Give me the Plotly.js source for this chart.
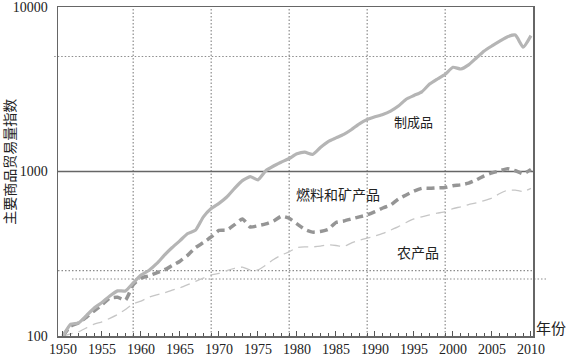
<!DOCTYPE html>
<html><head><meta charset="utf-8">
<script src="https://cdn.plot.ly/plotly-3.0.1.min.js"></script>
<style>html,body{margin:0;padding:0;background:#fff}#c{width:566px;height:358px}</style>
</head><body><div id="c"></div>
<script>
const years = [];
for (let y = 1950; y <= 2010; y++) years.push(y);

const manufactures = [100,118,120,133,148,160,175,188,188,210,235,250,275,310,345,380,420,440,530,595,640,700,790,880,930,890,1010,1080,1140,1200,1280,1310,1270,1400,1520,1600,1680,1800,1950,2070,2150,2220,2330,2500,2750,2900,3050,3400,3650,3900,4300,4200,4450,4900,5400,5800,6200,6600,6750,5700,6700];
const fuels = [100,115,120,130,142,155,170,172,165,205,225,232,242,252,268,285,310,345,370,400,438,440,475,515,460,468,480,500,535,520,480,445,428,432,445,490,500,515,530,545,570,600,625,680,720,760,790,790,795,800,820,830,850,890,940,980,1010,1040,1010,970,1030];
const agriculture = [100,103,106,112,118,122,128,135,145,157,163,172,178,183,190,196,205,215,225,235,240,250,258,262,252,252,270,292,310,325,345,348,348,352,358,355,350,368,382,394,405,420,440,462,490,515,530,545,558,570,595,610,630,645,665,690,735,770,770,755,790];

const xTickVals = [1950,1955,1960,1965,1970,1975,1980,1985,1990,1995,2000,2005,2010];
const yTickVals = [100,1000,10000];
const yTickText = ['100','1000','10000'];
const gridYears = [1959,1969,1979,1989,1999];
const refLevels = [5000,250,222];

const serif = '"Liberation Serif", "DejaVu Serif", serif';
const cjk = '"Noto Sans CJK SC", sans-serif';

const traces = [
  {x: years, y: agriculture, type:'scatter', mode:'lines', line:{color:'#c6c6c6', width:1.3, dash:'10px,6px', shape:'spline', smoothing:0.5}, hoverinfo:'skip'},
  {x: years, y: fuels, type:'scatter', mode:'lines', line:{color:'#959595', width:3.5, dash:'8px,5px', shape:'spline', smoothing:0.5}, hoverinfo:'skip'},
  {x: years, y: manufactures, type:'scatter', mode:'lines', line:{color:'#b5b5b5', width:3.2, shape:'spline', smoothing:0.5}, hoverinfo:'skip'}
];

const dotLine = {color:'#8c8c8c', width:1.2, dash:'1.5px,2px'};
const shapes = gridYears.map(g => ({type:'line', xref:'x', yref:'paper', x0:g, x1:g, y0:0, y1:1, line:dotLine, layer:'below'}));
shapes.push({type:'line', xref:'paper', yref:'y', x0:-0.008, x1:1, y0:refLevels[0], y1:refLevels[0], line:dotLine, layer:'below'});
shapes.push({type:'line', xref:'paper', yref:'y', x0:0, x1:1, y0:refLevels[1], y1:refLevels[1], line:dotLine, layer:'below'});
shapes.push({type:'line', xref:'paper', yref:'y', x0:0.0295, x1:1.029, y0:refLevels[2], y1:refLevels[2], line:dotLine, layer:'below'});
shapes.push({type:'line', xref:'paper', yref:'y', x0:0, x1:1, y0:1000, y1:1000, line:{color:'#666666', width:1.4}, layer:'below'});

const layout = {
  width:566, height:358,
  margin:{l:58, r:33, t:7, b:22},
  paper_bgcolor:'#fff', plot_bgcolor:'#fff',
  showlegend:false,
  xaxis:{range:[1949.36, 2010.26], tickvals:xTickVals, ticktext:xTickVals.map(String), ticks:'inside', ticklen:5, tickcolor:'#555', tickwidth:1,
    minor:{dtick:1, tick0:1950, ticks:'inside', ticklen:3, tickcolor:'#555', showgrid:false},
    showgrid:false, zeroline:false, showline:true, linecolor:'#666', linewidth:1.5, mirror:true,
    tickfont:{family:serif, size:14, color:'#222'}, ticklabelstandoff:0, ticklabeloverflow:'allow'},
  yaxis:{type:'log', range:[2, 4], tickvals:yTickVals, ticktext:yTickText, ticks:'', showgrid:false, zeroline:false,
    showline:true, linecolor:'#666', linewidth:1.5, mirror:true, tickfont:{family:serif, size:14, color:'#222'}, ticklabelstandoff:6, ticklabeloverflow:'allow'},
  shapes: shapes,
  annotations:[
    {text:'主要商品贸易量指数', xref:'paper', yref:'paper', x:-49/475, y:0.53, textangle:-90, showarrow:false, xanchor:'center', yanchor:'middle', font:{family:cjk, size:14, color:'#222'}},
    {text:'制成品', xref:'paper', yref:'paper', x:(413-58)/475, y:(336-121)/329, showarrow:false, xanchor:'center', yanchor:'middle', font:{family:cjk, size:13, color:'#222'}},
    {text:'燃料和矿产品', xref:'paper', yref:'paper', x:(338-58)/475, y:(336-194)/329, showarrow:false, xanchor:'center', yanchor:'middle', font:{family:cjk, size:14, color:'#222'}},
    {text:'农产品', xref:'paper', yref:'paper', x:(418-58)/475, y:(336-252)/329, showarrow:false, xanchor:'center', yanchor:'middle', font:{family:cjk, size:14, color:'#222'}},
    {text:'年份', xref:'paper', yref:'paper', x:(551-58)/475, y:(336-327)/329, showarrow:false, xanchor:'center', yanchor:'middle', font:{family:cjk, size:15, color:'#222'}}
  ]
};

Plotly.newPlot('c', traces, layout, {displayModeBar:false, staticPlot:true});
</script>
</body></html>
